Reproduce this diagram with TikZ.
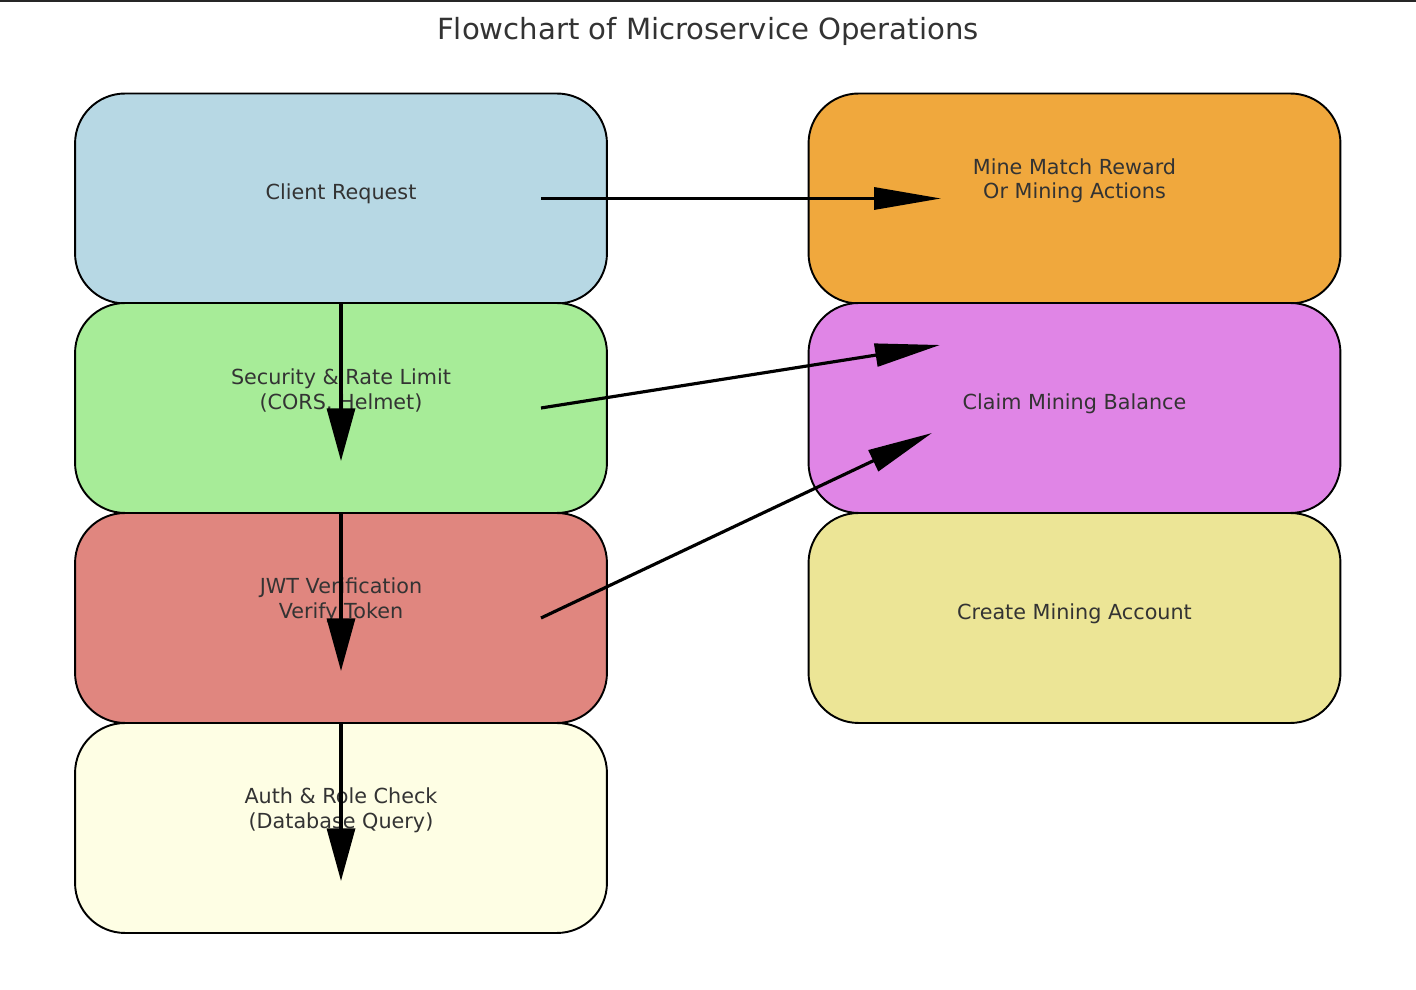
\documentclass[tikz,border=0pt]{standalone}
\usepackage{fontspec}
\setmainfont{DejaVu Sans}
\usetikzlibrary{arrows.meta}

\definecolor{texto}{HTML}{333333}
\definecolor{azul}{HTML}{B7D8E4}
\definecolor{verde}{HTML}{A7EC98}
\definecolor{rojo}{HTML}{E0867F}
\definecolor{crema}{HTML}{FEFEE4}
\definecolor{naranja}{HTML}{F0A83D}
\definecolor{violeta}{HTML}{E085E6}
\definecolor{caqui}{HTML}{ECE596}

\tikzset{
  caja/.style={draw=black, line width=1.1pt, rounded corners=1cm,
    minimum width=10.64cm, minimum height=4.2cm, inner sep=0pt},
  etq/.style={text=texto, font=\fontsize{11.8}{13.9}\selectfont, align=center},
  flecha/.style={line width=1.8pt},
  puntah/.style={-{Triangle[length=38pt,width=12.5pt]}},
  puntav/.style={-{Triangle[length=30pt,width=16pt]}},
  puntad/.style={-{Triangle[length=37pt,width=13pt]}}
}

\begin{document}
\begin{tikzpicture}[x=0.02cm,y=0.02cm]
        \useasboundingbox (0,0) rectangle (1416,990);
        \draw[line width=1.5pt, black!85] (0,989) -- (1416,989);
        \node[text=texto, font=\fontsize{16.6}{19}\selectfont] (titulo) at (708,958.5) {Flowchart of Microservice Operations};

        %columna izquierda
        \node[caja, fill=azul, label={[etq,yshift=2.6pt]center:{Client Request}}] (client) at (341,791.5) {};
        \node[caja, fill=verde, label={[etq,yshift=10pt]center:{Security \& Rate Limit\\(CORS, Helmet)}}] (security) at (341,582) {};
        \node[caja, fill=rojo, label={[etq,yshift=10pt]center:{JWT Verification\\Verify Token}}] (jwt) at (341,372) {};
        \node[caja, fill=crema, label={[etq,yshift=10pt]center:{Auth \& Role Check\\(Database Query)}}] (auth) at (341,162) {};

        %columna derecha
        \node[caja, fill=naranja, label={[etq,yshift=10pt]center:{Mine Match Reward\\Or Mining Actions}}] (reward) at (1074.5,791.5) {};
        \node[caja, fill=violeta, label={[etq,yshift=2.6pt]center:{Claim Mining Balance}}] (claim) at (1074.5,582) {};
        \node[caja, fill=caqui, label={[etq,yshift=2.6pt]center:{Create Mining Account}}] (account) at (1074.5,372) {};

        %flechas entre cajas
        \draw[flecha, puntav] (client.south) -- ([shift={(0,-53)}]security.center);
        \draw[flecha, puntav] (security.south) -- ([shift={(0,-53)}]jwt.center);
        \draw[flecha, puntav] (jwt.south) -- ([shift={(0,-53)}]auth.center);

        \draw[flecha, puntah] ([shift={(200,0)}]client.center) -- ([shift={(-133.5,0)}]reward.center);
        \draw[flecha, puntad] ([shift={(200,0)}]security.center) -- ([shift={(-134.5,63)}]claim.center);
        \draw[flecha, puntad] ([shift={(200,0)}]jwt.center) -- ([shift={(-142.5,-25)}]claim.center);
\end{tikzpicture}
\end{document}
